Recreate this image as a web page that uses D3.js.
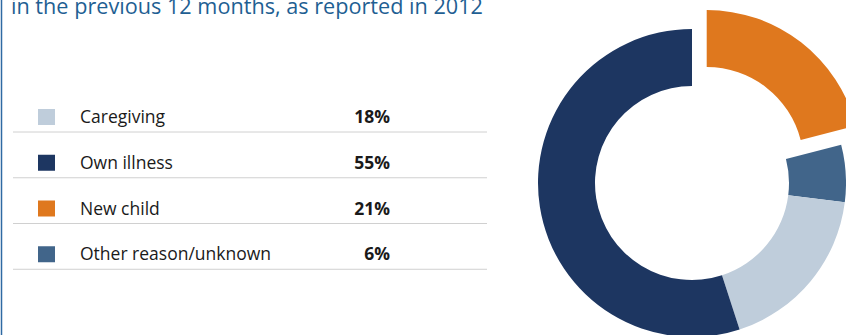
<!DOCTYPE html>
<html>
<head>
<meta charset="utf-8">
<script src="https://cdn.jsdelivr.net/npm/d3@7"></script>
<style>
  body { margin: 0; background: #fff; }
  text { font-family: "Open Sans", "Noto Sans", sans-serif; }
</style>
</head>
<body>
<div id="chart"></div>
<script>
// legend order
var categories = ['Caregiving', 'Own illness', 'New child', 'Other reason/unknown'];
var values = [18, 55, 21, 6];
var colours = ['#bfcddb', '#1d3661', '#df781e', '#41658a'];
// slice order round the ring, clockwise from 12 o'clock
var ringOrder = ['New child', 'Other reason/unknown', 'Caregiving', 'Own illness'];
var title = 'in the previous 12 months, as reported in 2012';

var width = 846, height = 335;

var svg = d3.select('#chart').append('svg')
  .attr('width', width)
  .attr('height', height);

// frame line on the left
svg.append('line')
  .attr('x1', 1.5).attr('x2', 1.5)
  .attr('y1', 0).attr('y2', height)
  .attr('stroke', '#2f6aa3')
  .attr('stroke-width', 1.5);

svg.append('text')
  .attr('x', 11)
  .attr('y', 14)
  .attr('fill', '#1f5f93')
  .style('font-size', '21px')
  .attr('textLength', 472)
  .attr('lengthAdjust', 'spacingAndGlyphs')
  .text(title);

// legend table
var rowY = d3.scaleBand()
  .domain(categories)
  .range([95, 278]);

var colour = d3.scaleOrdinal().domain(categories).range(colours);

var rows = svg.append('g').selectAll('g')
  .data(categories)
  .enter().append('g')
  .attr('transform', function(d) { return 'translate(0,' + rowY(d) + ')'; });

rows.append('rect')
  .attr('x', 38)
  .attr('y', 14)
  .attr('width', 17)
  .attr('height', 16)
  .attr('fill', function(d) { return colour(d); });

rows.append('text')
  .attr('x', 80)
  .attr('y', 28)
  .attr('fill', '#1a1a1a')
  .style('font-size', '17.5px')
  .text(function(d) { return d; });

rows.append('text')
  .attr('x', 390)
  .attr('y', 28)
  .attr('text-anchor', 'end')
  .attr('fill', '#1a1a1a')
  .style('font-size', '17.5px')
  .style('font-weight', 'bold')
  .text(function(d, i) { return values[i] + '%'; });

rows.append('line')
  .attr('x1', 13).attr('x2', 487)
  .attr('y1', 37).attr('y2', 37)
  .attr('stroke', '#d0d0d0')
  .attr('stroke-width', 1);

// donut
var cx = 692, cy = 183;
var outerR = 154, innerR = 97;

var pie = d3.pie()
  .sort(null)
  .value(function(d) { return values[categories.indexOf(d)]; });

var arc = d3.arc()
  .innerRadius(innerR)
  .outerRadius(outerR);

var donut = svg.append('g')
  .attr('transform', 'translate(' + cx + ',' + cy + ')');

donut.selectAll('path')
  .data(pie(ringOrder))
  .enter().append('path')
  .attr('d', arc)
  .attr('fill', function(d) { return colour(d.data); })
  .attr('transform', function(d) {
    if (d.data !== 'New child') return null;
    var mid = (d.startAngle + d.endAngle) / 2;
    var off = 24;
    return 'translate(' + (Math.sin(mid) * off) + ',' + (-Math.cos(mid) * off) + ')';
  });
</script>
</body>
</html>
